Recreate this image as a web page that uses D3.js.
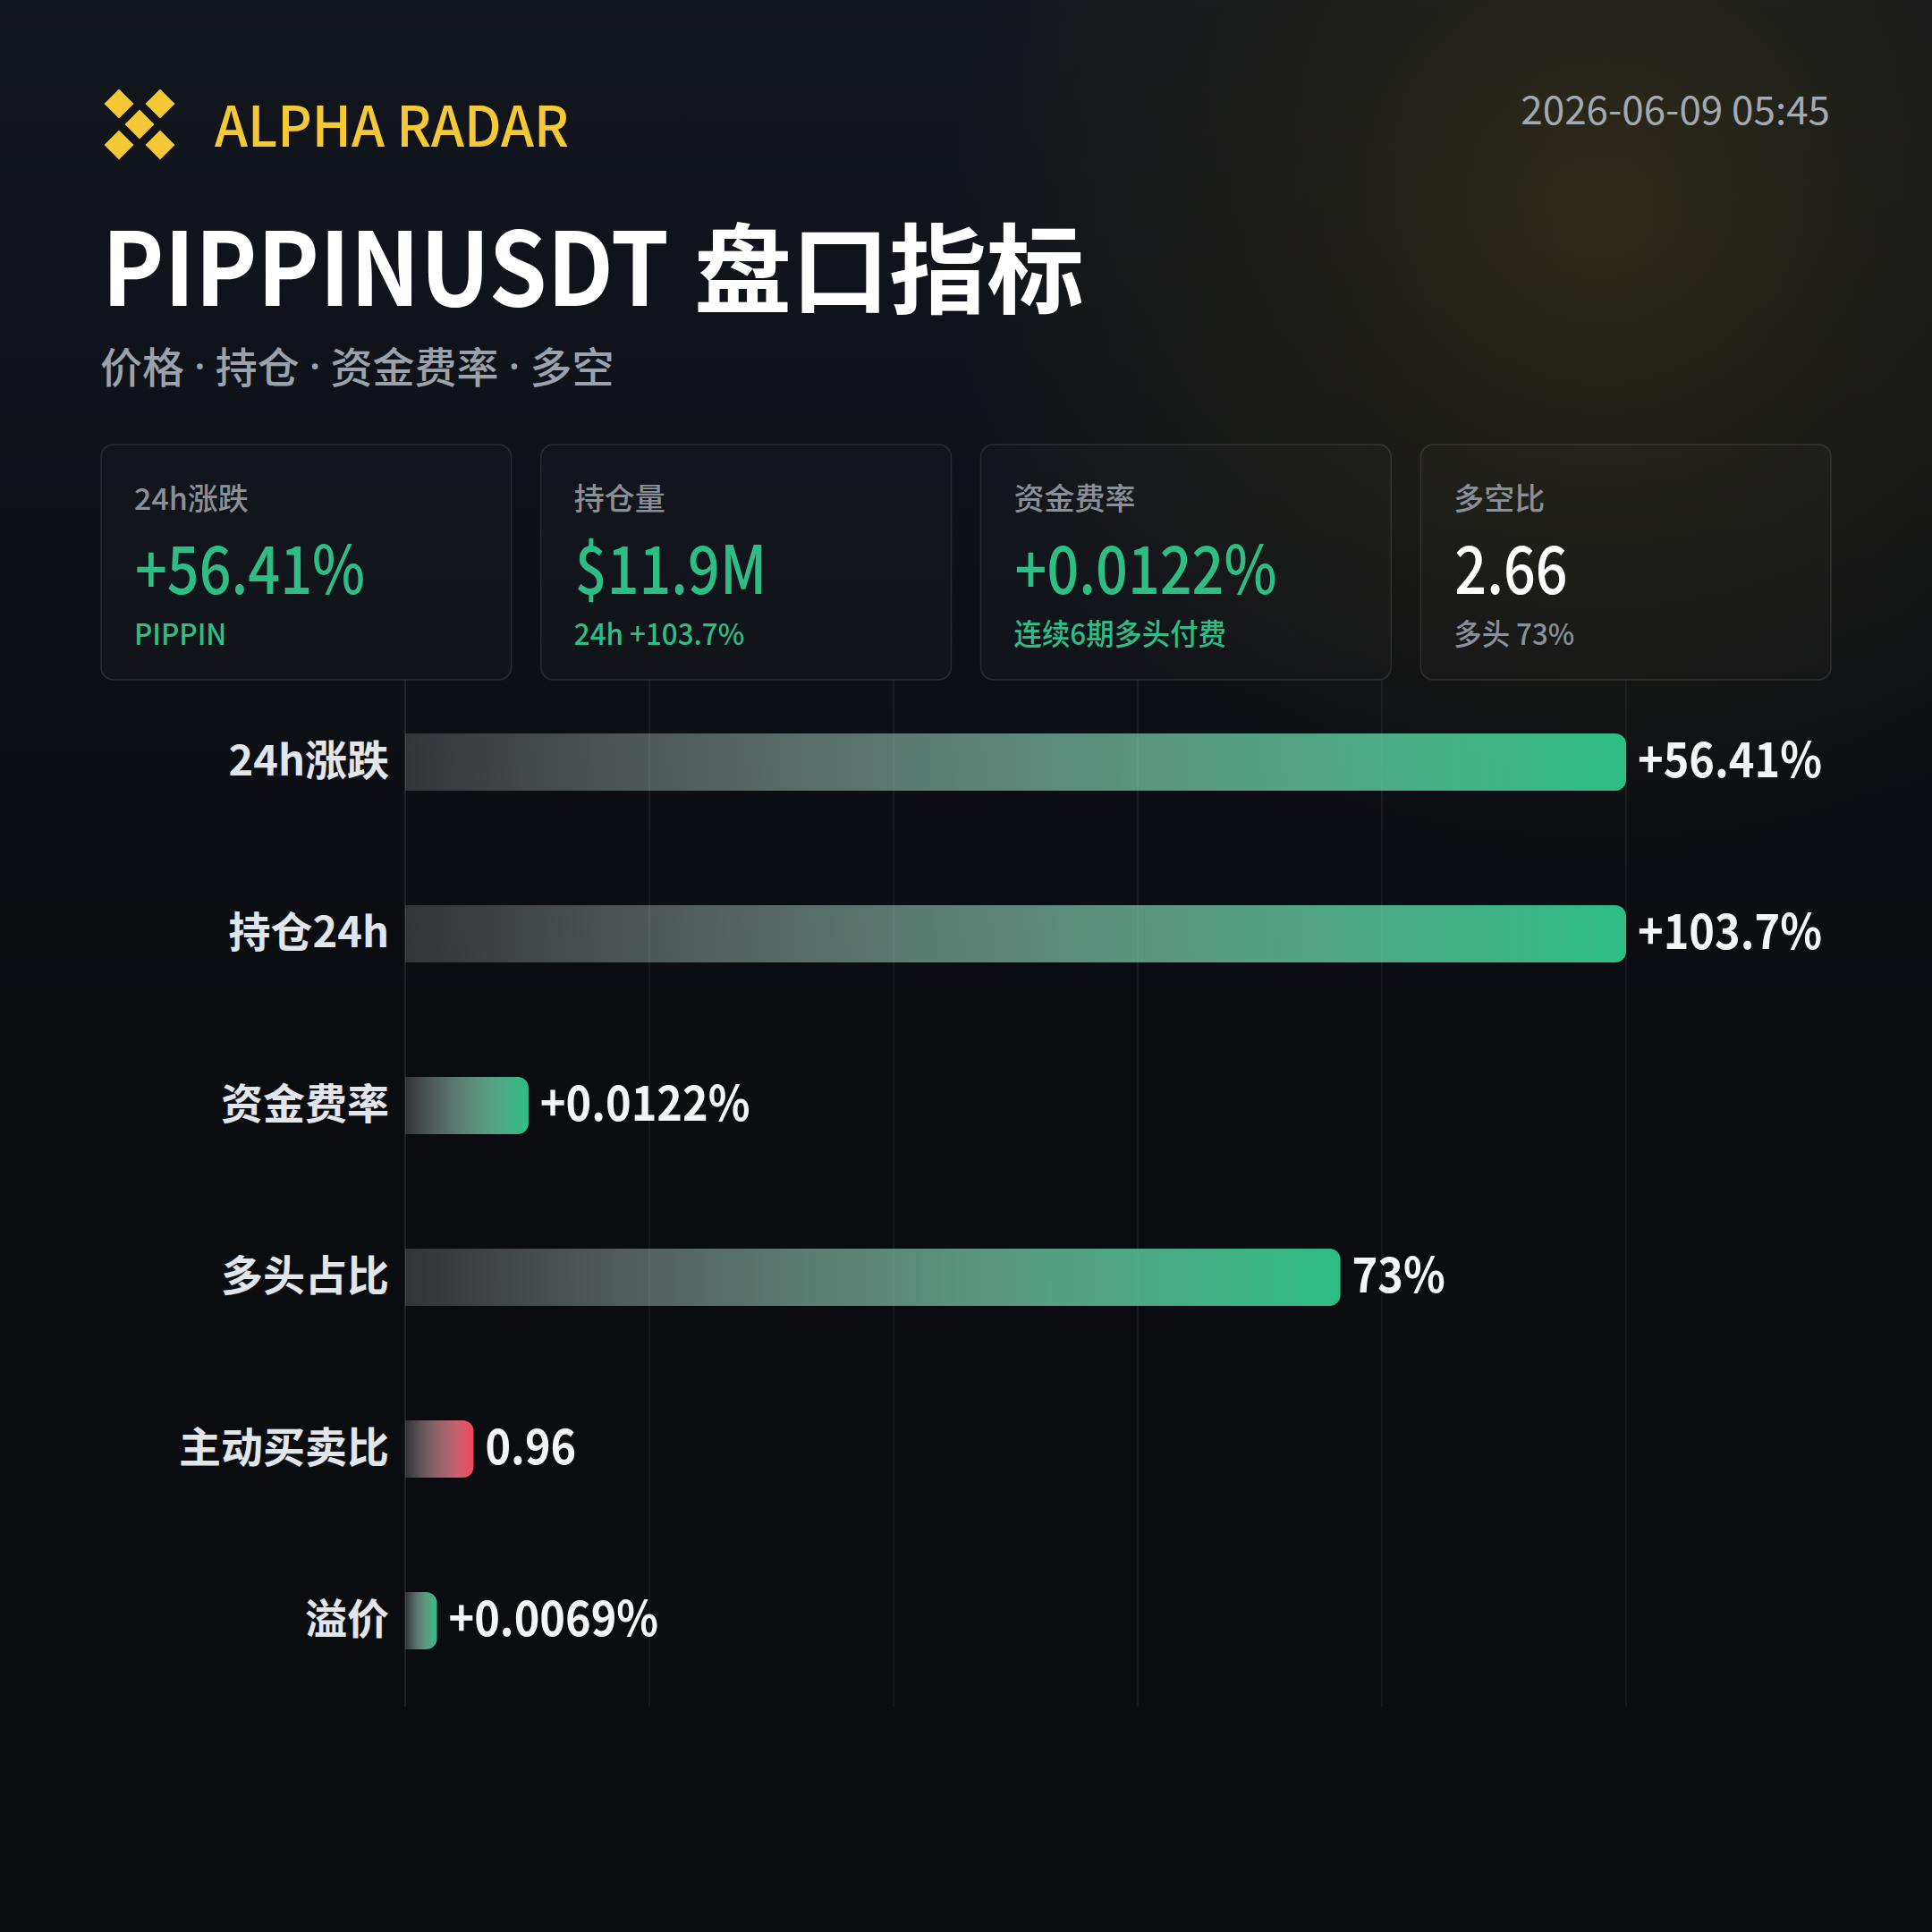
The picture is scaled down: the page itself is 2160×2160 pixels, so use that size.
<!DOCTYPE html>
<html>
<head>
<meta charset="utf-8">
<script src="https://cdn.jsdelivr.net/npm/d3@7"></script>
<style>
  html, body { margin: 0; padding: 0; background: #0b0e12; }
  svg { display: block; }
  svg { font-family: "Noto Sans CJK SC", "Noto Sans", sans-serif; }
</style>
</head>
<body>
<script>
// ---- data ----
const categories = ["24h涨跌", "持仓24h", "资金费率", "多头占比", "主动买卖比", "溢价"];
const barScores = [100, 100, 10.1, 76.6, 5.6, 2.6];        // bar length, % of scale
const valueLabels = ["+56.41%", "+103.7%", "+0.0122%", "73%", "0.96", "+0.0069%"];
const barTones = ["up", "up", "up", "up", "down", "up"];
const gridTicks = [0, 20, 40, 60, 80, 100];

const cardTitles = ["24h涨跌", "持仓量", "资金费率", "多空比"];
const cardValues = ["+56.41%", "$11.9M", "+0.0122%", "2.66"];
const cardNotes = ["PIPPIN", "24h +103.7%", "连续6期多头付费", "多头 73%"];
const cardValueTones = ["up", "up", "up", "neutral"];
const cardNoteTones = ["up", "up", "up", "muted"];

const brand = "ALPHA RADAR";
const timestamp = "2026-06-09 05:45";
const titleLatin = "PIPPINUSDT";
const titleCJK = "盘口指标";
const subtitleParts = ["价格", "持仓", "资金费率", "多空"];

// ---- style ----
const W = 2160, H = 2160;
const GREEN = "#2ebd85", RED = "#f6465d", GOLD = "#f5c935";

const svg = d3.select("body").append("svg").attr("width", W).attr("height", H);
const defs = svg.append("defs");

function condense(sel, k) {
  sel.each(function () {
    const w = this.getComputedTextLength();
    d3.select(this).attr("textLength", w * k).attr("lengthAdjust", "spacingAndGlyphs");
  });
  return sel;
}

const bgGrad = defs.append("linearGradient").attr("id", "bg").attr("x1", 0).attr("y1", 0).attr("x2", 0).attr("y2", 1);
bgGrad.append("stop").attr("offset", "0%").attr("stop-color", "#12161d");
bgGrad.append("stop").attr("offset", "55%").attr("stop-color", "#0a0c10");
bgGrad.append("stop").attr("offset", "100%").attr("stop-color", "#0a0d10");

const glow = defs.append("radialGradient").attr("id", "glow")
  .attr("gradientUnits", "userSpaceOnUse").attr("cx", 1790).attr("cy", 240).attr("r", 740);
glow.append("stop").attr("offset", "0%").attr("stop-color", "#f0b90b").attr("stop-opacity", 0.14);
glow.append("stop").attr("offset", "40%").attr("stop-color", "#f0b90b").attr("stop-opacity", 0.065);
glow.append("stop").attr("offset", "100%").attr("stop-color", "#f0b90b").attr("stop-opacity", 0);

function barGradient(id, color) {
  const g = defs.append("linearGradient").attr("id", id).attr("x1", 0).attr("x2", 1).attr("y1", 0).attr("y2", 0);
  g.append("stop").attr("offset", "0%").attr("stop-color", "#ffffff").attr("stop-opacity", 0.16);
  g.append("stop").attr("offset", "100%").attr("stop-color", color).attr("stop-opacity", 1);
}
barGradient("grad-up", GREEN);
barGradient("grad-down", RED);

svg.append("rect").attr("width", W).attr("height", H).attr("fill", "url(#bg)");
svg.append("rect").attr("width", W).attr("height", H).attr("fill", "url(#glow)");

// ---- header ----
const logo = svg.append("g").attr("transform", "translate(156,139)");
const dOff = 23, dR = 16.5;
[[-1, -1], [1, -1], [0, 0], [-1, 1], [1, 1]].forEach(([a, b]) => {
  const cx = a * dOff, cy = b * dOff;
  logo.append("path")
    .attr("d", `M${cx},${cy - dR}L${cx + dR},${cy}L${cx},${cy + dR}L${cx - dR},${cy}Z`)
    .attr("fill", GOLD);
});
condense(svg.append("text").attr("x", 240).attr("y", 164).text(brand)
  .attr("fill", GOLD).attr("font-size", 62).attr("font-weight", 500), 0.96);

svg.append("text").attr("x", 2046).attr("y", 139).attr("text-anchor", "end").text(timestamp)
  .attr("fill", "#a3aab4").attr("font-size", 44);

const tLatin = svg.append("text").attr("x", 114).attr("y", 342).text(titleLatin)
  .attr("fill", "#ffffff").attr("font-size", 114).attr("font-weight", 700);
condense(tLatin, 0.915);
const latinEnd = 114 + +tLatin.attr("textLength");
svg.append("text").attr("x", latinEnd + 28).attr("y", 342).text(titleCJK)
  .attr("fill", "#ffffff").attr("font-size", 109).attr("font-weight", 700);

// subtitle: CJK words separated by narrow middle dots
let subX = 112;
const subG = svg.append("g").attr("fill", "#9ba2ac").attr("font-size", 47).attr("font-weight", 500);
subtitleParts.forEach((p, i) => {
  if (i > 0) {
    const dot = subG.append("text").attr("x", subX + 11).attr("y", 426)
      .style("font-family", "'Noto Sans', 'DejaVu Sans', sans-serif").text("·");
    subX += 11 + dot.node().getComputedTextLength() + 11;
  }
  const t = subG.append("text").attr("x", subX).attr("y", 428).text(p);
  subX += t.node().getComputedTextLength();
});

// ---- cards ----
const cardX = d3.scaleBand().domain(d3.range(cardTitles.length)).range([113, 2047]).paddingInner(0.0674);
const cardTop = 497, cardH = 263;
const toneColor = t => t === "up" ? GREEN : t === "down" ? RED : t === "neutral" ? "#ffffff" : "#8b919a";
const cards = svg.append("g").selectAll("g").data(cardTitles).join("g")
  .attr("transform", (d, i) => `translate(${cardX(i)},${cardTop})`);
cards.append("rect").attr("width", cardX.bandwidth()).attr("height", cardH).attr("rx", 14)
  .attr("fill", "rgba(255,255,255,0.018)").attr("stroke", "rgba(255,255,255,0.11)").attr("stroke-width", 1.5);
cards.append("text").attr("x", 37).attr("y", 73).text(d => d)
  .attr("fill", "#8a9099").attr("font-size", 34).attr("font-weight", 500);
condense(cards.append("text").attr("x", 38).attr("y", 167).text((d, i) => cardValues[i])
  .attr("fill", (d, i) => toneColor(cardValueTones[i])).attr("font-size", 74).attr("font-weight", 500), 0.85);
condense(cards.append("text").attr("x", 37).attr("y", 224).text((d, i) => cardNotes[i])
  .attr("fill", (d, i) => toneColor(cardNoteTones[i])).attr("font-size", 33).attr("font-weight", 500), 0.95);

// ---- bar chart ----
const x = d3.scaleLinear().domain([0, 100]).range([453, 1818]);
const y = d3.scaleBand().domain(categories).range([756, 1908]).paddingInner(2 / 3).paddingOuter(1 / 3);

svg.append("g").selectAll("line").data(gridTicks).join("line")
  .attr("x1", d => x(d)).attr("x2", d => x(d)).attr("y1", 760).attr("y2", 1908)
  .attr("stroke", d => d === 0 ? "rgba(255,255,255,0.13)" : "rgba(255,255,255,0.07)").attr("stroke-width", 1.5);

const rows = categories.map((c, i) => ({ c, v: barScores[i], label: valueLabels[i], tone: barTones[i] }));
const r = 12;
function barPath(d) {
  const x0 = x(0), x1 = x(d.v), y0 = y(d.c), h = y.bandwidth();
  const rr = Math.min(r, (x1 - x0) / 2);
  return `M${x0},${y0}H${x1 - rr}A${rr},${rr} 0 0 1 ${x1},${y0 + rr}V${y0 + h - rr}A${rr},${rr} 0 0 1 ${x1 - rr},${y0 + h}H${x0}Z`;
}
svg.append("g").selectAll("path").data(rows).join("path")
  .attr("d", barPath).attr("fill", d => d.tone === "up" ? "url(#grad-up)" : "url(#grad-down)");

svg.append("g").selectAll("text").data(rows).join("text")
  .attr("x", 435).attr("y", d => y(d.c) + y.bandwidth() / 2).attr("dy", "0.32em")
  .attr("text-anchor", "end").text(d => d.c)
  .attr("fill", "#e2e5ea").attr("font-size", 47).attr("font-weight", 700);

condense(svg.append("g").selectAll("text").data(rows).join("text")
  .attr("x", d => x(d.v) + 13).attr("y", d => y(d.c) + y.bandwidth() / 2).attr("dy", "0.32em")
  .text(d => d.label)
  .attr("fill", "#f4f5f7").attr("font-size", 54).attr("font-weight", 700), 0.9);
</script>
</body>
</html>
